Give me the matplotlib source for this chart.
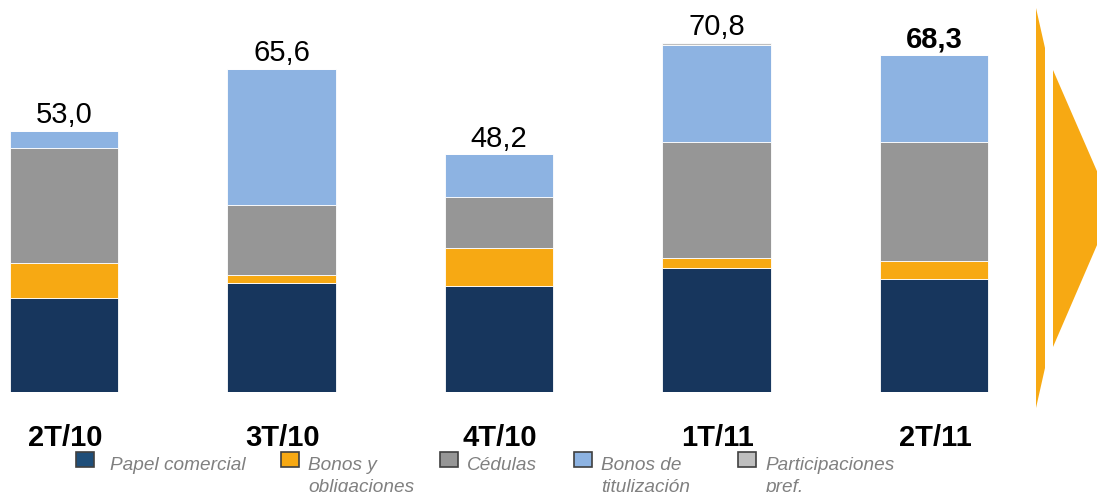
import numpy as np
import matplotlib.pyplot as plt
from matplotlib.patches import Polygon, Rectangle

quarters = ['2T/10', '3T/10', '4T/10', '1T/11', '2T/11']
totals = ['53,0', '65,6', '48,2', '70,8', '68,3']

papel = [19.0, 22.1, 21.5, 25.2, 22.9]
bonos = [7.1, 1.6, 7.7, 2.0, 3.7]
cedulas = [23.3, 14.2, 10.3, 23.5, 24.1]
titulizacion = [3.6, 27.7, 8.7, 19.7, 17.6]
participaciones = [0.0, 0.0, 0.0, 0.4, 0.0]

series = ['Papel comercial', 'Bonos y\nobligaciones', 'Cédulas',
          'Bonos de\ntitulización', 'Participaciones\npref.']
colors = ['#17365d', '#f7a913', '#969696', '#8db3e2', '#bfbfbf']
legend_colors = ['#1f4e79', '#f7a913', '#969696', '#8db3e2', '#bfbfbf']

W, H = 1097, 492
fig = plt.figure(figsize=(W / 100, H / 100), dpi=100)
ax = fig.add_axes([0, 100 / H, 1, 392 / H])

x = np.arange(len(quarters))
bottom = np.zeros(len(quarters))
for vals, c in zip([papel, bonos, cedulas, titulizacion, participaciones], colors):
    ax.bar(x, vals, bottom=bottom, width=0.5, color=c, edgecolor='white', linewidth=0.6)
    bottom += np.array(vals)

for i, t in enumerate(totals):
    ax.text(x[i], bottom[i] + 0.3, t, ha='center', va='bottom', fontsize=21,
            fontweight='bold' if i == len(totals) - 1 else 'normal',
            family='Liberation Sans', color='black')

ax.set_xlim(-64 / 217.5, (W - 64) / 217.5)
ax.set_ylim(0, 392 / 4.93)
ax.axis('off')

# category labels
for i, q in enumerate(quarters):
    px = 65 + 217.5 * i
    fig.text(px / W, 1 - 438 / H, q, ha='center', va='center', fontsize=21,
             fontweight='bold', family='Liberation Sans')

# legend drawn by hand
leg_x = [76, 281, 440, 574, 738]
text_x = [110, 308, 467, 601, 765]
for lx, tx, lab, c in zip(leg_x, text_x, series, legend_colors):
    fig.patches.append(Rectangle((lx / W, 1 - 467 / H), 18 / W, 15 / H,
                                 transform=fig.transFigure, facecolor=c,
                                 edgecolor='#404040', linewidth=1.2))
    fig.text(tx / W, 1 - 457 / H, lab, ha='left', va='top', fontsize=13.7,
             style='italic', color='#808080', family='Liberation Sans',
             linespacing=1.35)

# arrow shapes on the right
strip = [(1036, 8), (1045, 48), (1045, 368), (1036, 408)]
tri = [(1053, 70), (1113, 208), (1053, 347)]
for pts in (strip, tri):
    fig.patches.append(Polygon([(px / W, 1 - py / H) for px, py in pts], closed=True,
                               transform=fig.transFigure, facecolor='#f7a913',
                               edgecolor='none'))

fig.savefig('out.png', dpi=100)
